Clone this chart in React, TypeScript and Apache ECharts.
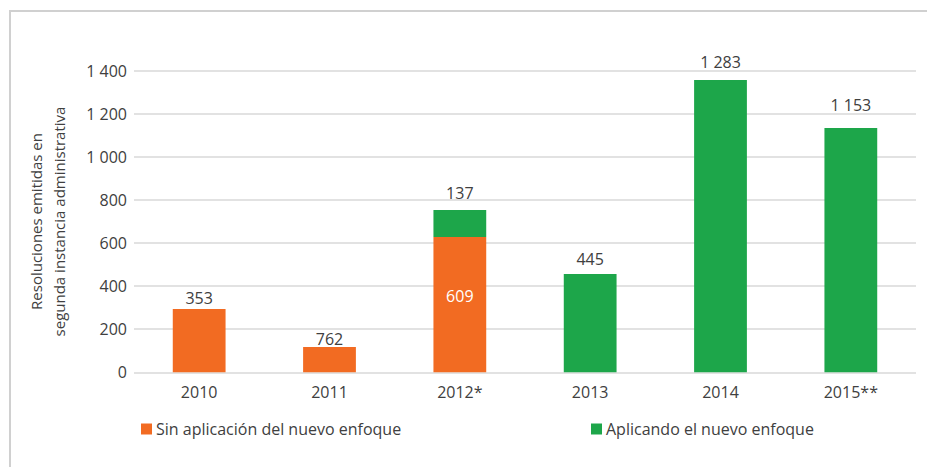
import React, { useEffect, useRef } from "react";
import * as echarts from "echarts";

const categories = ["2010", "2011", "2012*", "2013", "2014", "2015**"];
const sinValues = [294, 117, 628, null, null, null];
const conValues = [null, null, 125, 456, 1357, 1134];
const sinLabels = ["353", "762", "609", "", "", ""];
const conLabels = ["", "", "137", "445", "1 283", "1 153"];
const yTicks = { min: 0, max: 1400, interval: 200 };
const seriesNames = ["Sin aplicación del nuevo enfoque", "Aplicando el nuevo enfoque"];
const yTitle = "Resoluciones emitidas en\nsegunda instancia administrativa";

// styling only
const labelDistances = [3, 0, 9, 7, 10, 15];

const ORANGE = "#F26B22";
const GREEN = "#1DA64A";
const TEXT = "#404040";
const FONT = "'Open Sans', 'Noto Sans', sans-serif";

export default function App() {
  const ref = useRef<HTMLDivElement>(null);
  useEffect(() => {
    if (!ref.current) return;
    const chart = echarts.init(ref.current, undefined, { renderer: "svg" });
    const fmt = (v: number) => String(v).replace(/\B(?=(\d{3})+(?!\d))/g, " ");
    const sinData = sinValues.map((v, i) => {
      if (v == null) return null;
      const inside = conValues[i] != null;
      return {
        value: v,
        label: inside
          ? { show: true, position: "inside", color: "#ffffff", offset: [0, -9], formatter: sinLabels[i] }
          : { show: true, position: "top", distance: labelDistances[i], color: TEXT, formatter: sinLabels[i] },
      };
    });
    const conData = conValues.map((v, i) => {
      if (v == null) return null;
      return {
        value: v,
        label: { show: true, position: "top", distance: labelDistances[i], color: TEXT, formatter: conLabels[i] },
      };
    });
    chart.setOption({
      animation: false,
      textStyle: { fontFamily: FONT },
      graphic: [
        {
          type: "polyline",
          shape: { points: [[10, 467], [10, 11], [927, 11]] },
          style: { stroke: "#d0d0d0", lineWidth: 2, fill: "none" },
          silent: true,
        },
      ],
      grid: { left: 134, right: 11, top: 70.7, bottom: 94.7 },
      legend: [
        {
          data: [seriesNames[0]],
          left: 141,
          top: 421,
          icon: "rect",
          itemWidth: 11,
          itemHeight: 11,
          itemGap: 4,
          textStyle: { fontSize: 16, color: TEXT, fontFamily: FONT, padding: [0, 0, 0, -1] },
          padding: 0,
        },
        {
          data: [seriesNames[1]],
          left: 591,
          top: 421,
          icon: "rect",
          itemWidth: 11,
          itemHeight: 11,
          itemGap: 4,
          textStyle: { fontSize: 16, color: TEXT, fontFamily: FONT, padding: [0, 0, 0, -1] },
          padding: 0,
        },
      ],
      xAxis: {
        type: "category",
        data: categories,
        axisLine: { show: false },
        axisTick: { show: false },
        axisLabel: { fontSize: 16, color: TEXT, margin: 12, fontFamily: FONT },
      },
      yAxis: {
        type: "value",
        min: yTicks.min,
        max: yTicks.max,
        interval: yTicks.interval,
        name: yTitle,
        nameLocation: "middle",
        nameRotate: 90,
        nameGap: 64,
        nameTextStyle: { fontSize: 15, color: TEXT, lineHeight: 23, fontFamily: FONT },
        axisLine: { show: false },
        axisTick: { show: false },
        axisLabel: { fontSize: 16, color: TEXT, margin: 7, formatter: fmt, fontFamily: FONT },
        splitLine: { lineStyle: { color: "#d9d9d9", width: 1.5 } },
      },
      series: [
        {
          name: seriesNames[0],
          type: "bar",
          stack: "total",
          data: sinData,
          barWidth: "40.5%",
          itemStyle: { color: ORANGE },
          label: { fontSize: 16, fontFamily: FONT },
        },
        {
          name: seriesNames[1],
          type: "bar",
          stack: "total",
          data: conData,
          barWidth: "40.5%",
          itemStyle: { color: GREEN },
          label: { fontSize: 16, fontFamily: FONT },
        },
      ],
    });
    return () => chart.dispose();
  }, []);
  return (
    <div
      ref={ref}
      style={{ position: "fixed", left: 0, top: 0, width: 927, height: 467, background: "#ffffff" }}
    />
  );
}
